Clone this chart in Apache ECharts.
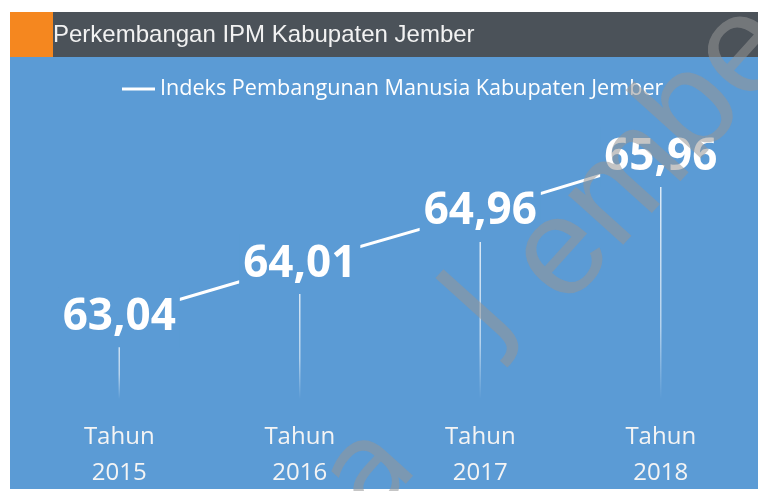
<!DOCTYPE html>
<html>
<head>
<meta charset="utf-8">
<script src="https://cdn.jsdelivr.net/npm/echarts@6/dist/echarts.min.js"></script>
<style>
html,body{margin:0;padding:0;background:#ffffff;}
#chart{width:758px;height:491px;}
</style>
</head>
<body>
<div id="chart"></div>
<script>
var titleText = 'Perkembangan IPM Kabupaten Jember';
var seriesName = 'Indeks Pembangunan Manusia Kabupaten Jember';
var categories = ['Tahun\n2015', 'Tahun\n2016', 'Tahun\n2017', 'Tahun\n2018'];
var ipmValues = [63.04, 64.01, 64.96, 65.96];

var BLUE = '#5b9bd5';
var WM = 'rgba(150,150,150,0.55)';
var ROT = 0.838;
var WMFONT = '122px "DejaVu Sans"';
var WMFONT2 = '140px "Liberation Sans"';

var chart = echarts.init(document.getElementById('chart'), null, {renderer: 'canvas'});
chart.setOption({
  animation: false,
  backgroundColor: '#ffffff',
  graphic: [
    {type: 'rect', z: -10, shape: {x: 10, y: 57, width: 748, height: 432}, style: {fill: BLUE}},
    {type: 'rect', z: -10, shape: {x: 10, y: 12, width: 748, height: 45}, style: {fill: '#4b5259'}},
    {type: 'rect', z: -9, shape: {x: 10, y: 12, width: 43, height: 45}, style: {fill: '#f5871f'}},
    {type: 'text', z: -8, x: 53, y: 35, style: {text: titleText, font: '24px "Liberation Sans", Arial, sans-serif', fill: '#f2f2f2', textAlign: 'left', textVerticalAlign: 'middle'}},
    {type: 'text', z: 100, x: 372, y: 474, rotation: ROT, style: {text: 'a', font: WMFONT, fill: WM, textAlign: 'center', textVerticalAlign: 'middle'}},
    {type: 'text', z: 100, x: 482, y: 312, rotation: ROT, style: {text: 'J', font: WMFONT, fill: WM, textAlign: 'center', textVerticalAlign: 'middle'}},
    {type: 'text', z: 100, x: 536, y: 284, rotation: ROT, style: {text: 'ember', font: WMFONT2, fill: WM, textAlign: 'left', textVerticalAlign: 'middle'}}
  ],
  legend: {
    data: [seriesName],
    left: 117,
    top: 73,
    icon: 'rect',
    itemWidth: 33,
    itemHeight: 3,
    textStyle: {color: '#ffffff', fontFamily: 'Open Sans', fontSize: 21.6}
  },
  grid: {left: 29, right: 7, top: 100, bottom: 91},
  xAxis: {
    type: 'category',
    data: categories,
    boundaryGap: true,
    axisLine: {show: false},
    axisTick: {show: false},
    splitLine: {show: false},
    axisLabel: {color: '#f4f4f4', fontFamily: 'Open Sans', fontSize: 24, lineHeight: 36, margin: 20}
  },
  yAxis: {
    type: 'value',
    min: 61.55,
    max: 67,
    show: false,
    splitLine: {show: false}
  },
  series: [
    {
      name: 'drop',
      type: 'bar',
      data: ipmValues,
      barWidth: 1.5,
      silent: true,
      itemStyle: {
        color: new echarts.graphic.LinearGradient(0, 0, 0, 1, [
          {offset: 0, color: 'rgba(255,255,255,0.85)'},
          {offset: 0.7, color: 'rgba(255,255,255,0.55)'},
          {offset: 1, color: 'rgba(255,255,255,0.0)'}
        ])
      }
    },
    {
      name: seriesName,
      type: 'line',
      data: ipmValues,
      symbol: 'circle',
      symbolSize: 1,
      lineStyle: {color: '#ffffff', width: 3},
      itemStyle: {color: '#ffffff'},
      label: {
        show: true,
        position: 'inside',
        formatter: function (p) { return p.value.toFixed(2).replace('.', ','); },
        color: '#ffffff',
        fontFamily: 'Open Sans',
        fontWeight: 'bold',
        fontSize: 44,
        lineHeight: 44,
        backgroundColor: BLUE,
        padding: [8, 4]
      }
    }
  ]
});
</script>
</body>
</html>
